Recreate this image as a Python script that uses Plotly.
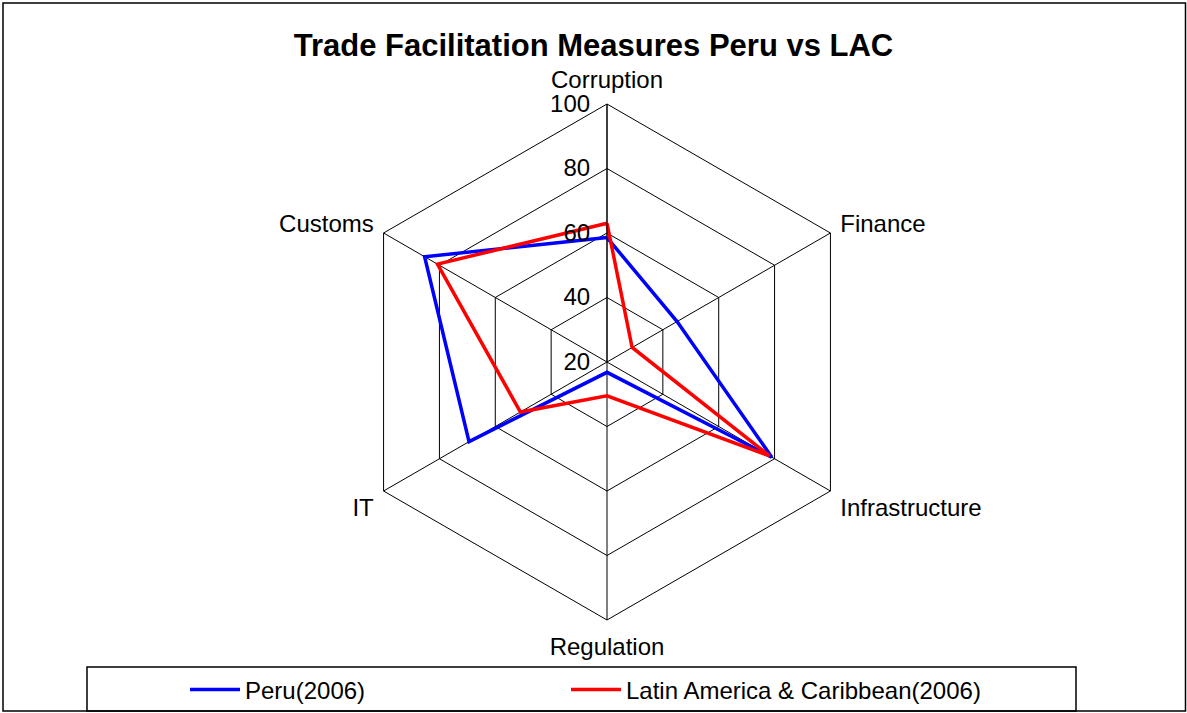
import plotly.graph_objects as go

categories = ["Corruption", "Finance", "Infrastructure", "Regulation", "IT", "Customs"]
peru_2006 = [58.6, 45.1, 79.0, 23.2, 69.4, 85.3]
lac_2006 = [63.0, 29.0, 78.2, 30.5, 51.0, 80.7]
radial_ticks = [20, 40, 60, 80, 100]

W, H = 1187, 713
FONT = "Liberation Sans, Arial, sans-serif"

fig = go.Figure()
fig.add_trace(go.Scatterpolar(
    r=peru_2006 + peru_2006[:1], theta=categories + categories[:1],
    mode="lines", name="Peru(2006)", legend="legend",
    line=dict(color="#0000FF", width=3.5),
))
fig.add_trace(go.Scatterpolar(
    r=lac_2006 + lac_2006[:1], theta=categories + categories[:1],
    mode="lines", name="Latin America & Caribbean(2006)", legend="legend2",
    line=dict(color="#FF0000", width=3.5),
))

cx, cy, R = 607, 362, 258
legend_common = dict(
    orientation="h", xanchor="left", y=1 - 690 / H, yanchor="middle",
    bgcolor="rgba(0,0,0,0)", borderwidth=0,
    font=dict(family=FONT, size=24, color="black"), itemwidth=50,
)
fig.update_layout(
    width=W, height=H,
    margin=dict(l=0, r=0, t=0, b=0),
    paper_bgcolor="white",
    font=dict(family=FONT, size=24, color="black"),
    title=dict(text="<b>Trade Facilitation Measures Peru vs LAC</b>",
               x=0.5, xanchor="center", y=1 - 45 / H, yanchor="middle",
               font=dict(family=FONT, size=31, color="black")),
    polar=dict(
        domain=dict(x=[(cx - R) / W, (cx + R) / W], y=[1 - (cy + R) / H, 1 - (cy - R) / H]),
        bgcolor="white",
        gridshape="linear",
        radialaxis=dict(
            range=[20, 100], tickvals=radial_ticks, angle=90, tickangle=90,
            side="counterclockwise",
            showline=True, linecolor="black", linewidth=1,
            gridcolor="black", gridwidth=1,
            ticks="outside", ticklen=8, tickcolor="rgba(0,0,0,0)",
            tickfont=dict(size=24, color="black"),
        ),
        angularaxis=dict(
            direction="clockwise", rotation=90,
            showline=True, linecolor="black", linewidth=1,
            gridcolor="black", gridwidth=1,
            ticks="outside", ticklen=6, tickcolor="rgba(0,0,0,0)",
            tickfont=dict(size=24, color="black"),
        ),
    ),
    showlegend=True,
    legend=dict(x=185 / W, **legend_common),
    legend2=dict(x=566 / W, **legend_common),
    shapes=[
        dict(type="rect", xref="paper", yref="paper",
             x0=3 / W, x1=1185.5 / W, y0=1 - 711 / H, y1=1 - 3 / H,
             line=dict(color="black", width=1.5)),
        dict(type="rect", xref="paper", yref="paper",
             x0=87 / W, x1=1076 / W, y0=1 - 711 / H, y1=1 - 667 / H,
             line=dict(color="black", width=1.5)),
    ],
)

fig.write_html(
    "out.html",
    config={"displayModeBar": False},
    post_script="document.body.style.margin='0';document.body.style.overflow='hidden';",
)
